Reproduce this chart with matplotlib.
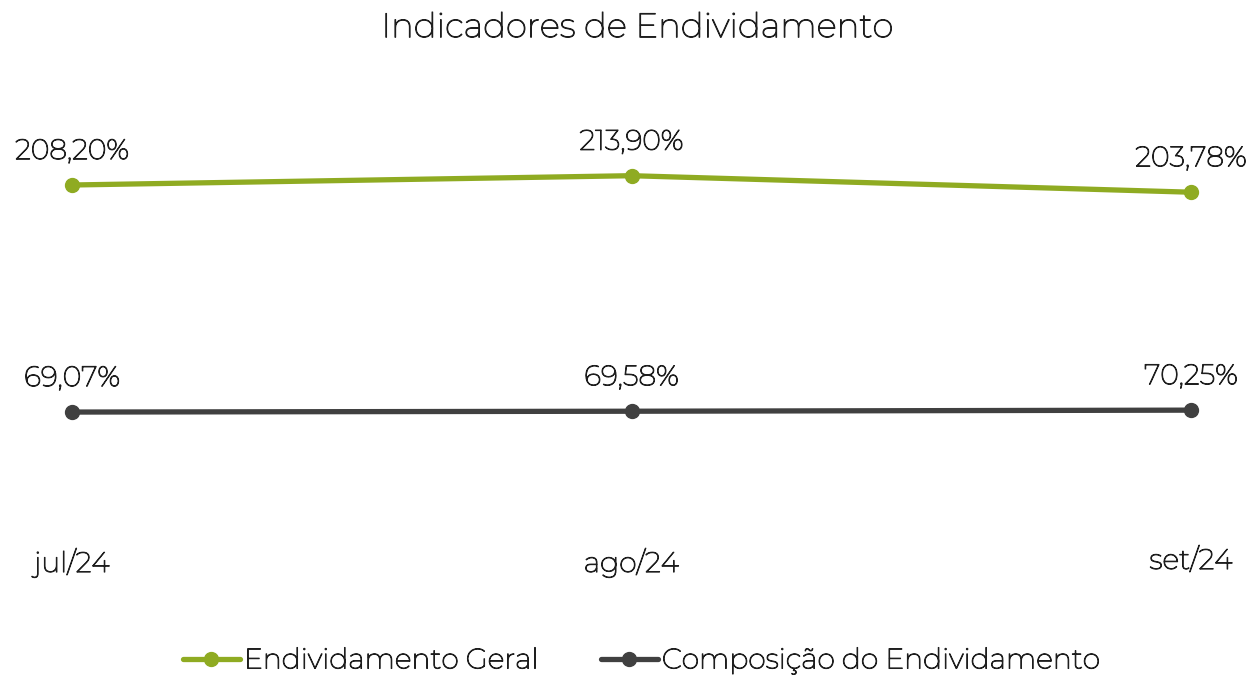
import matplotlib
matplotlib.use("Agg")
import matplotlib.pyplot as plt
import matplotlib.patheffects as pe

categories = ["jul/24", "ago/24", "set/24"]
endiv_geral = [208.20, 213.90, 203.78]
composicao = [69.07, 69.58, 70.25]
series_names = ["Endividamento Geral", "Composição do Endividamento"]
title = "Indicadores de Endividamento"

plt.rcParams['font.family'] = ['Montserrat', 'Lato', 'DejaVu Sans']
W, H = 1249, 675
fig = plt.figure(figsize=(W/100, H/100), dpi=100)
left, right, top, bottom = 72, 1191, 100, 530
ax = fig.add_axes([left/W, 1-bottom/H, (right-left)/W, (bottom-top)/H])
ax.set_xlim(0, 2)
pxu = 1.632
ax.set_ylim(208.2 - (bottom-185)/pxu, 208.2 + (185-top)/pxu)

green = "#8FAB22"
dark = "#404040"
tc = "#1e1e1e"
FS = 20.4
PE = [pe.Stroke(linewidth=0.75, foreground=tc), pe.Normal()]
x = list(range(len(categories)))
l1, = ax.plot(x, endiv_geral, color=green, lw=3.8, marker='o', ms=10, clip_on=False,
              solid_capstyle='round', label=series_names[0])
l2, = ax.plot(x, composicao, color=dark, lw=3.8, marker='o', ms=10, clip_on=False,
              solid_capstyle='round', label=series_names[1])

def fmt(v):
    return f"{v:.2f}".replace('.', ',') + "%"

for xs, ys in ((x, endiv_geral), (x, composicao)):
    for xi, yi in zip(xs, ys):
        ax.annotate(fmt(yi), (xi, yi), xytext=(0, 24), textcoords='offset points',
                    ha='center', va='center', fontsize=FS, color=tc, path_effects=PE)

ax.set_xticks(x)
ax.set_xticklabels(categories, fontsize=FS, color=tc, path_effects=PE)
ax.tick_params(axis='x', length=0, pad=13)
ax.set_yticks([])
for s in ax.spines.values():
    s.set_visible(False)

fig.suptitle(title, x=637.5/W, y=1-28/H, va='center', fontsize=24.5, color=tc, path_effects=PE)

leg = fig.legend(handles=[l1, l2], loc='center', bbox_to_anchor=(641.5/W, 1-661/H), ncol=2,
                 frameon=False, fontsize=FS, handlelength=2.0, columnspacing=2.2,
                 handletextpad=0.15)
for t in leg.get_texts():
    t.set_color(tc)
    t.set_path_effects(PE)

fig.savefig("out.png", dpi=100)
